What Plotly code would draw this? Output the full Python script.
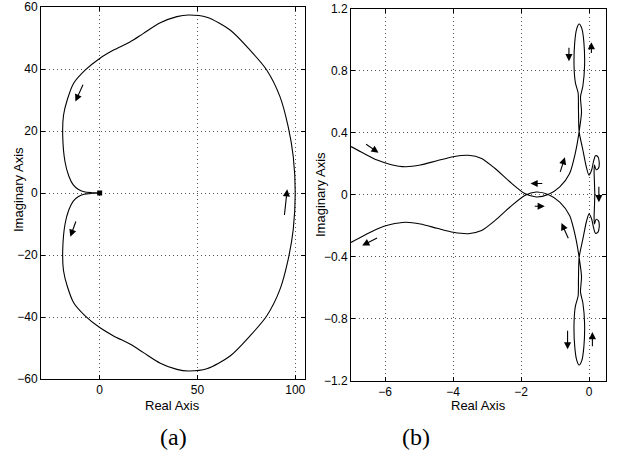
import plotly.graph_objects as go

# ---------------- data: panel (a) ----------------
a_re = [0, -4, -8, -11, -13.5, -15.8, -17.7, -18.9, -18.5, -16.6, -13.3, -7.3, 0, 7.1, 15.7, 22.4, 31, 39.5,
        45.4, 54.8, 66.7, 76.9, 85.4, 92.2, 96.4, 99, 100,
        99, 96.4, 92.2, 85.4, 76.9, 66.7, 54.8, 45.4, 39.5, 31, 22.4, 15.7, 7.1, 0, -7.3, -13.3, -16.6,
        -18.5, -18.9, -17.7, -15.8, -13.5, -11, -8, -4, 0]
a_im = [0, -0.1, -0.4, -1.2, -2.6, -5.5, -10, -18.5, -25, -30, -35.4, -39.7, -43.4, -46.1, -48.8, -51.5, -54.9, -56.9,
        -57.4, -56.7, -52.6, -46.1, -39.7, -31.1, -21.4, -11.7, 0,
        11.7, 21.4, 31.1, 39.7, 46.1, 52.6, 56.7, 57.4, 56.9, 54.9, 51.5, 48.8, 46.1, 43.4, 39.7, 35.4, 30,
        25, 18.5, 10, 5.5, 2.6, 1.2, 0.4, 0.1, 0]
a_start_re = [0]
a_start_im = [0]
a_arrow_tail_re = [-8.2, -11.9, 94.4]
a_arrow_tail_im = [35.4, -8.7, -7.6]
a_arrow_head_re = [-12.4, -15.0, 95.9]
a_arrow_head_im = [29.5, -14.1, 1.2]

# ---------------- data: panel (b) ----------------
b_up_re = [-7.0, -6.63, -6.23, -5.84, -5.40, -4.96, -4.47, -3.99, -3.55, -3.16,
           -2.77, -2.33, -1.89, -1.55, -1.20, -0.86, -0.57, -0.40, -0.29, -0.22,
           -0.25, -0.18, -0.13, -0.15, -0.21, -0.29, -0.36, -0.42, -0.44, -0.40,
           -0.32, -0.31, -0.29, -0.18, -0.08, 0.00, 0.08, 0.13, 0.19, 0.26,
           0.30, 0.28, 0.21, 0.16, 0.15, 0.16, 0.17]
b_up_im = [0.309, 0.266, 0.222, 0.194, 0.179, 0.190, 0.218, 0.244, 0.253, 0.233,
           0.169, 0.082, 0.006, -0.016, 0.0, 0.049, 0.136, 0.27, 0.406, 0.53,
           0.63, 0.70, 0.83, 0.98, 1.07, 1.10, 1.07, 0.98, 0.83, 0.72,
           0.655, 0.55, 0.406, 0.287, 0.179, 0.125, 0.16, 0.21, 0.25, 0.245,
           0.21, 0.17, 0.16, 0.19, 0.15, 0.08, 0.0]
b_lo_re = [0.16, 0.15, 0.16, 0.21, 0.28, 0.30, 0.26, 0.19, 0.13, 0.08,
           0.00, -0.08, -0.18, -0.29, -0.31, -0.32, -0.40, -0.44, -0.42, -0.36,
           -0.29, -0.21, -0.15, -0.13, -0.18, -0.25, -0.22, -0.29, -0.40, -0.57,
           -0.86, -1.20, -1.55, -1.89, -2.33, -2.77, -3.16, -3.55, -3.99, -4.47,
           -4.96, -5.40, -5.84, -6.23, -6.63, -7.0]
b_lo_im = [-0.08, -0.15, -0.19, -0.16, -0.17, -0.21, -0.245, -0.25, -0.21, -0.16,
           -0.125, -0.179, -0.287, -0.406, -0.55, -0.655, -0.72, -0.83, -0.98, -1.07,
           -1.10, -1.07, -0.98, -0.83, -0.70, -0.63, -0.53, -0.406, -0.27, -0.136,
           -0.049, 0.0, 0.016, -0.006, -0.082, -0.169, -0.233, -0.253, -0.244, -0.218,
           -0.190, -0.179, -0.194, -0.222, -0.266, -0.309]
b_arrow_tail_re = [-6.60, -6.19, -1.33, -1.64, -0.86, -0.59, -0.59, 0.07, -0.63, 0.10, 0.29]
b_arrow_tail_im = [0.331, -0.275, 0.071, -0.076, 0.136, -0.292, 0.957, 0.903, -0.869, -0.988, 0.06]
b_arrow_head_re = [-6.19, -6.67, -1.72, -1.30, -0.71, -0.81, -0.59, 0.07, -0.63, 0.10, 0.29]
b_arrow_head_im = [0.270, -0.329, 0.071, -0.076, 0.24, -0.184, 0.860, 0.983, -0.999, -0.887, -0.05]

# ticks
a_xticks = [0, 50, 100]
a_yticks = [-60, -40, -20, 0, 20, 40, 60]
b_xticks = [-6, -4, -2, 0]
b_yticks = [-1.2, -0.8, -0.4, 0, 0.4, 0.8, 1.2]
b_yticklabels = ["\u22121.2", "\u22120.8", "\u22120.4", "0", "0.4", "0.8", "1.2"]

W, H = 619, 462
FONT = "Liberation Sans, Arial, sans-serif"

fig = go.Figure()
fig.add_trace(go.Scatter(x=a_re, y=a_im, mode="lines", xaxis="x", yaxis="y",
                         line=dict(color="black", width=1.1, shape="spline", smoothing=0.8),
                         showlegend=False, hoverinfo="skip"))
fig.add_trace(go.Scatter(x=a_start_re, y=a_start_im, mode="markers", xaxis="x", yaxis="y",
                         marker=dict(color="black", size=5, symbol="square"),
                         showlegend=False, hoverinfo="skip"))
fig.add_trace(go.Scatter(x=b_up_re + b_lo_re, y=b_up_im + b_lo_im, mode="lines", xaxis="x2", yaxis="y2",
                         line=dict(color="black", width=1.1, shape="spline", smoothing=0.7),
                         showlegend=False, hoverinfo="skip"))

anns = []
for tx, ty, hx, hy in zip(a_arrow_tail_re, a_arrow_tail_im, a_arrow_head_re, a_arrow_head_im):
    anns.append(dict(x=hx, y=hy, ax=tx, ay=ty, xref="x", yref="y", axref="x", ayref="y",
                     text="", showarrow=True, arrowhead=2, arrowsize=1.3, arrowwidth=1.1,
                     arrowcolor="black"))
for tx, ty, hx, hy in zip(b_arrow_tail_re, b_arrow_tail_im, b_arrow_head_re, b_arrow_head_im):
    anns.append(dict(x=hx, y=hy, ax=tx, ay=ty, xref="x2", yref="y2", axref="x2", ayref="y2",
                     text="", showarrow=True, arrowhead=2, arrowsize=1.3, arrowwidth=1.1,
                     arrowcolor="black"))

def px(xp):
    return xp / W

def py(yp):
    return 1 - yp / H

lbl = dict(showarrow=False, xref="paper", yref="paper", xanchor="center", yanchor="middle",
           font=dict(family=FONT, size=13, color="black"))
anns.append(dict(text="Real Axis", x=px(172), y=py(405), **lbl))
anns.append(dict(text="Real Axis", x=px(478), y=py(405), **lbl))
anns.append(dict(text="Imaginary Axis", x=px(19), y=py(190), textangle=-90, **lbl))
anns.append(dict(text="Imaginary Axis", x=px(320), y=py(195), textangle=-90, **lbl))
ser = dict(showarrow=False, xref="paper", yref="paper", xanchor="center", yanchor="middle",
           font=dict(family="Liberation Serif, DejaVu Serif, serif", size=24, color="black"))
anns.append(dict(text="(a)", x=px(173), y=py(437), **ser))
anns.append(dict(text="(b)", x=px(416), y=py(437), **ser))

axis_common = dict(showline=True, linecolor="black", linewidth=1, mirror="ticks",
                   ticks="inside", ticklen=4, tickcolor="black", showgrid=True,
                   gridcolor="#555555", griddash="1px,3px", gridwidth=1, zeroline=False,
                   automargin=False, ticklabelstandoff=0,
                   tickfont=dict(family=FONT, size=12, color="black"), fixedrange=True)

fig.update_layout(
    template="none",
    width=W, height=H,
    margin=dict(l=0, r=0, t=0, b=0, autoexpand=False),
    paper_bgcolor="white", plot_bgcolor="white",
    xaxis=dict(domain=[px(41), px(305)], range=[-30, 105], tickvals=a_xticks, anchor="y", **axis_common),
    yaxis=dict(domain=[py(379), py(7)], range=[-60, 60], tickvals=a_yticks, anchor="x", **axis_common),
    xaxis2=dict(domain=[px(351), px(606)], range=[-7, 0.5], tickvals=b_xticks, anchor="y2", **axis_common),
    yaxis2=dict(domain=[py(380.5), py(8.5)], range=[-1.2, 1.2], tickvals=b_yticks,
                ticktext=b_yticklabels, anchor="x2", **axis_common),
    annotations=anns,
)

fig.write_html("out.html", config={"displayModeBar": False},
               post_script="document.body.style.margin='0';document.body.style.overflow='hidden';")
